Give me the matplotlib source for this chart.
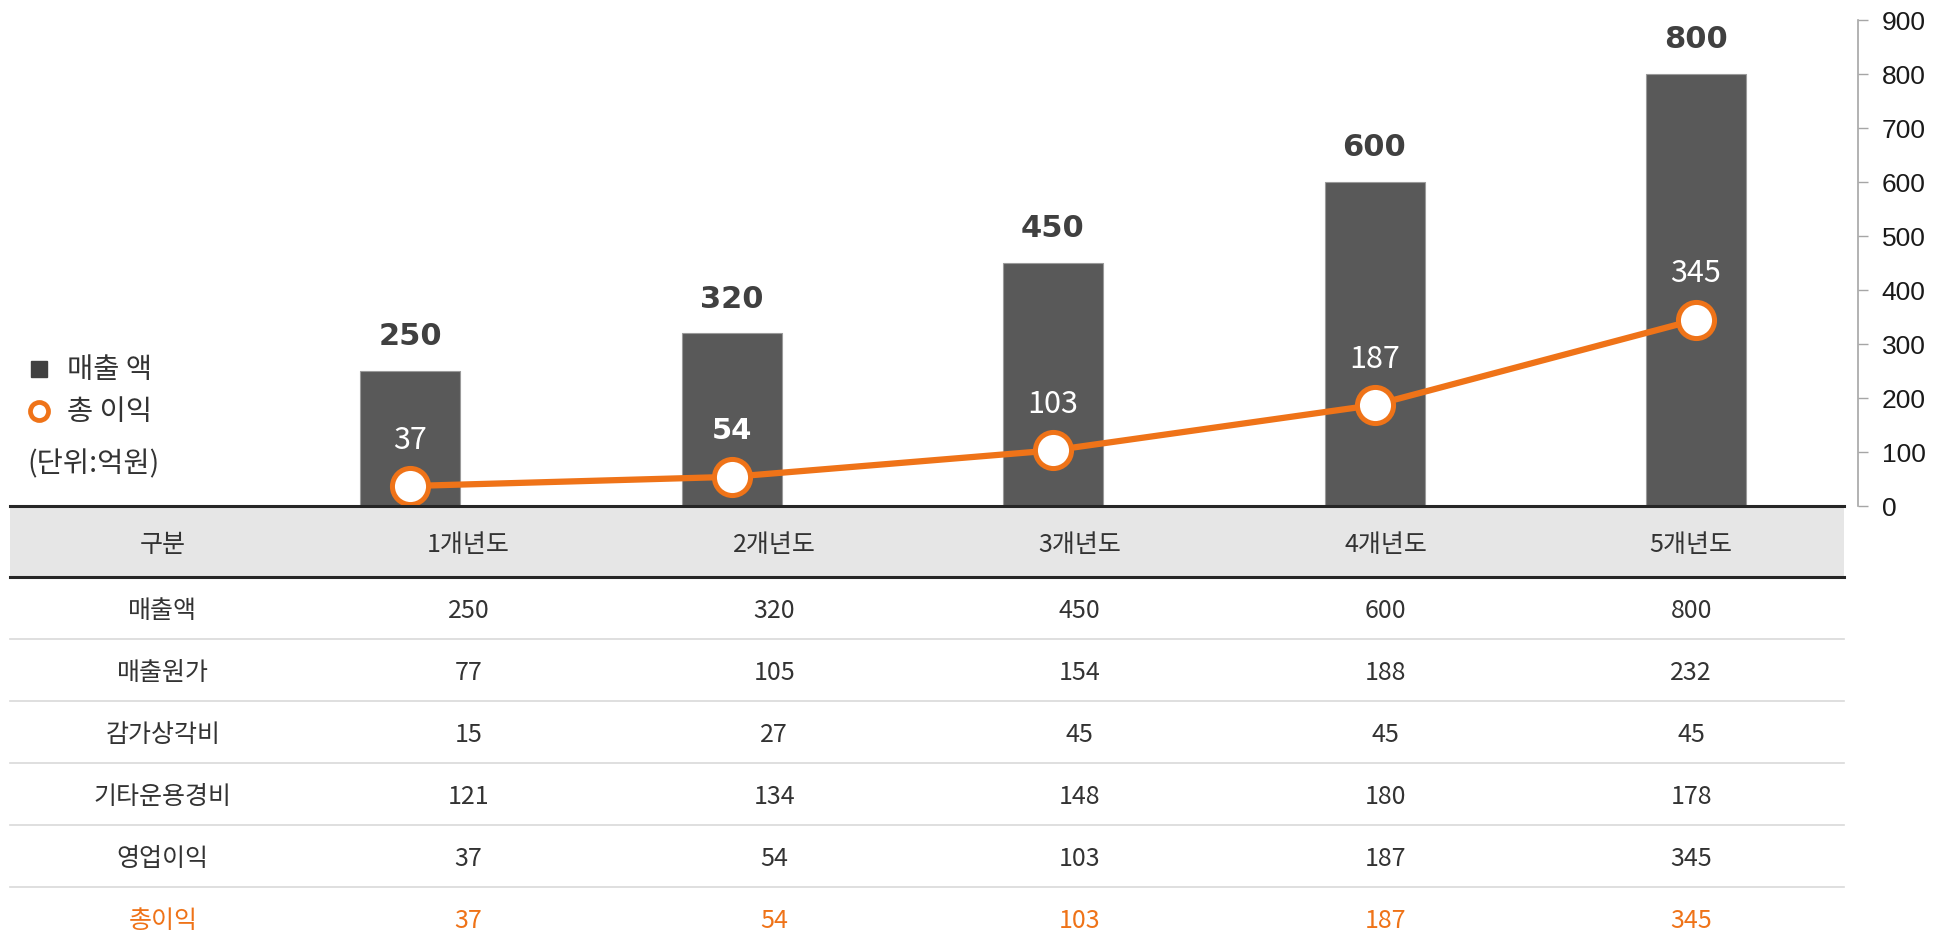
import matplotlib
matplotlib.use("Agg")
import matplotlib.pyplot as plt

plt.rcParams['font.family'] = ['Noto Sans CJK KR', 'DejaVu Sans']

# ---- data ----
years = ["1개년도", "2개년도", "3개년도", "4개년도", "5개년도"]
sales = [250, 320, 450, 600, 800]
profit = [37, 54, 103, 187, 345]
row_labels = ["매출액", "매출원가", "감가상각비", "기타운용경비", "영업이익", "총이익"]
table_rows = [
    [250, 320, 450, 600, 800],
    [77, 105, 154, 188, 232],
    [15, 27, 45, 45, 45],
    [121, 134, 148, 180, 178],
    [37, 54, 103, 187, 345],
    [37, 54, 103, 187, 345],
]
header_label = "구분"
legend_labels = ["매출 액", "총 이익"]
unit_label = "(단위:억원)"
yticks = [0, 100, 200, 300, 400, 500, 600, 700, 800, 900]

BAR = "#595959"
ORANGE = "#ef7318"
DARK = "#333333"

W, H = 1955, 946
fig = plt.figure(figsize=(W / 100, H / 100), dpi=100)

# ---- table (pixel-coordinate axes) ----
axt = fig.add_axes([0, 0, 1, 1])
axt.set_xlim(0, W)
axt.set_ylim(H, 0)
axt.axis("off")
axt.set_zorder(0)

tx0, tx1 = 10, 1844
colw = (tx1 - tx0) / 6
hdr_top, hdr_bot = 506, 577
rowh = 62
dy = 3
TFS = 18
axt.add_patch(plt.Rectangle((tx0, hdr_top), tx1 - tx0, hdr_bot - hdr_top,
                            facecolor="#e6e6e6", edgecolor="none", zorder=0))
axt.plot([tx0, tx1], [hdr_bot, hdr_bot], color="#262626", lw=2.2, zorder=2)
hy = (hdr_top + hdr_bot) / 2 + dy
axt.text(tx0 + colw * 0.5, hy, header_label, ha="center", va="center",
         fontsize=TFS, color=DARK)
for j, yr in enumerate(years):
    axt.text(tx0 + colw * (j + 1.5), hy, yr, ha="center", va="center",
             fontsize=TFS, color=DARK)
for i, (lab, vals) in enumerate(zip(row_labels, table_rows)):
    cy = hdr_bot + rowh * (i + 0.5) + dy
    col = ORANGE if i == len(row_labels) - 1 else DARK
    axt.text(tx0 + colw * 0.5, cy, lab, ha="center", va="center",
             fontsize=TFS, color=col)
    for j, v in enumerate(vals):
        axt.text(tx0 + colw * (j + 1.5), cy, str(v), ha="center", va="center",
                 fontsize=TFS, color=col)
    if i < len(row_labels) - 1:
        ly = hdr_bot + rowh * (i + 1)
        axt.plot([tx0, tx1], [ly, ly], color="#d9d9d9", lw=1.2, zorder=1)

# legend
axt.plot([39], [369], marker="s", ms=11, color="#404040", mec="#404040")
axt.text(67, 370, legend_labels[0], ha="left", va="center", fontsize=20.5, color=DARK)
axt.plot([39], [411], marker="o", ms=13, mfc="white", mec=ORANGE, mew=3.4)
axt.text(67, 412, legend_labels[1], ha="left", va="center", fontsize=20.5, color=DARK)
axt.text(27, 464, unit_label, ha="left", va="center", fontsize=20.5, color=DARK)

# ---- chart axes ----
left, right = 10, 1858
bottom_px, top_px = 440, 926
ax = fig.add_axes([left / W, bottom_px / H, (right - left) / W, (top_px - bottom_px) / H])
ax.set_zorder(1)
ax.patch.set_alpha(0)

x = list(range(len(years)))
c0, step = 410, 321.5
ax.set_xlim((left - c0) / step, (right - c0) / step)
ax.set_ylim(0, 900)

bw = 100 / step
ax.bar(x, sales, width=bw, color=BAR, edgecolor="#9a9a9a", linewidth=0.8, zorder=2)
for xi, v in zip(x, sales):
    ax.annotate(str(v), (xi, v), xytext=(0, 24.5), textcoords="offset points",
                ha="center", va="center", fontsize=22, fontweight="bold",
                color="#404040", family=["DejaVu Sans"])

ax.plot(x, profit, color=ORANGE, lw=4.5, zorder=3, marker="o", ms=26,
        mfc="white", mec=ORANGE, mew=3.6, clip_on=False)
for i, (xi, v) in enumerate(zip(x, profit)):
    bold = (i == 1)
    if bold:
        ax.annotate(str(v), (xi, v), xytext=(0, 33), textcoords="offset points",
                    ha="center", va="center", fontsize=21, fontweight="bold",
                    color="white", family=["DejaVu Sans"])
    else:
        ax.annotate(str(v), (xi, v), xytext=(0, 33), textcoords="offset points",
                    ha="center", va="center", fontsize=22, color="white")

# axis line at bottom (table top)
ax.axhline(0, color="#262626", lw=2.2, zorder=4, clip_on=False,
           xmin=0, xmax=(tx1 - left) / (right - left))

for s in ["top", "left", "bottom"]:
    ax.spines[s].set_visible(False)
ax.spines["right"].set_color("#a6a6a6")
ax.spines["right"].set_linewidth(1.2)
ax.yaxis.tick_right()
ax.set_yticks(yticks)
ax.tick_params(axis="y", direction="out", length=7, width=1, color="#a6a6a6",
               labelsize=19, labelcolor="#1a1a1a", pad=10)
for t in ax.get_yticklabels():
    t.set_family(["Liberation Sans", "DejaVu Sans"])
ax.set_xticks([])

fig.savefig("out.png", dpi=100)
